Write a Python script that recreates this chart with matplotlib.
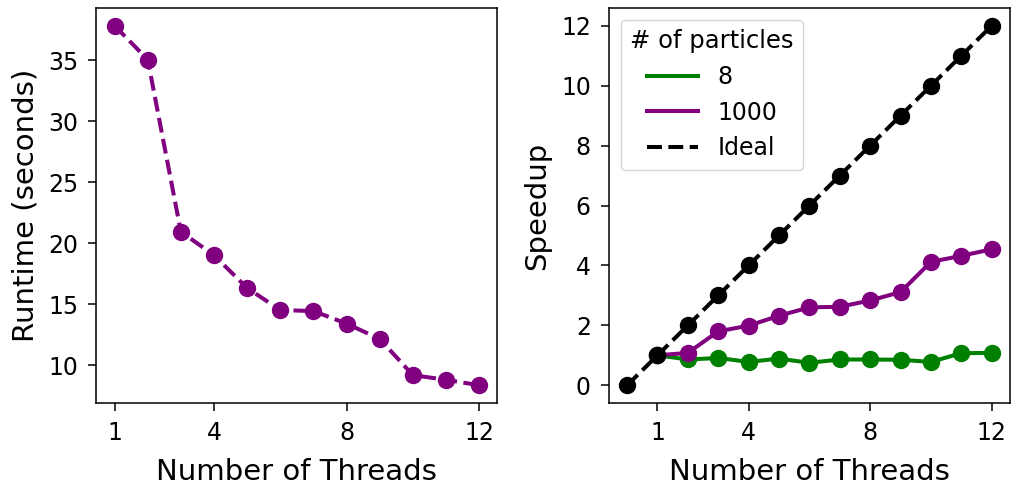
import matplotlib.pyplot as plt
from matplotlib.lines import Line2D

threads = [1, 2, 3, 4, 5, 6, 7, 8, 9, 10, 11, 12]
runtime_1000 = [37.85, 35.08, 20.95, 19.02, 16.33, 14.52, 14.44, 13.41, 12.15, 9.18, 8.80, 8.35]
speedup_8 = [1.0, 0.86, 0.91, 0.78, 0.89, 0.75, 0.86, 0.86, 0.85, 0.78, 1.07, 1.08]
speedup_1000 = [1.0, 1.08, 1.80, 1.99, 2.32, 2.60, 2.62, 2.83, 3.11, 4.12, 4.32, 4.54]
ideal_x = [0, 1, 2, 3, 4, 5, 6, 7, 8, 9, 10, 11, 12]
ideal_y = [0, 1, 2, 3, 4, 5, 6, 7, 8, 9, 10, 11, 12]
xticks = [1, 4, 8, 12]

fig, (ax1, ax2) = plt.subplots(1, 2, figsize=(10.14, 4.87), dpi=100)
fig.subplots_adjust(left=0.095, right=0.996, top=0.984, bottom=0.172, wspace=0.278)

ms = 11.5
lw = 2.9

ax1.plot(threads, runtime_1000, '--o', color='purple', ms=ms, lw=lw)
ax1.set_xticks(xticks)
ax1.set_xlabel('Number of Threads', fontsize=21, labelpad=9)
ax1.set_ylabel('Runtime (seconds)', fontsize=21, labelpad=6)

ax2.plot(threads, speedup_8, '-o', color='green', ms=ms, lw=lw)
ax2.plot(threads, speedup_1000, '-o', color='purple', ms=ms, lw=lw)
ax2.plot(ideal_x, ideal_y, '--o', color='black', ms=ms, lw=lw)
ax2.set_xticks(xticks)
ax2.set_xlabel('Number of Threads', fontsize=21, labelpad=9)
ax2.set_ylabel('Speedup', fontsize=21, labelpad=7)

for ax in (ax1, ax2):
    ax.tick_params(labelsize=17, length=6, width=1.1, pad=7)
    for s in ax.spines.values():
        s.set_linewidth(1.1)

handles = [Line2D([], [], color='green', lw=lw),
           Line2D([], [], color='purple', lw=lw),
           Line2D([], [], color='black', lw=lw, ls='--')]
ax2.legend(handles, ['8', '1000', 'Ideal'], title='# of particles',
           loc='upper left', fontsize=17, title_fontsize=17.5, handlelength=2.2)

fig.savefig('out.png')
